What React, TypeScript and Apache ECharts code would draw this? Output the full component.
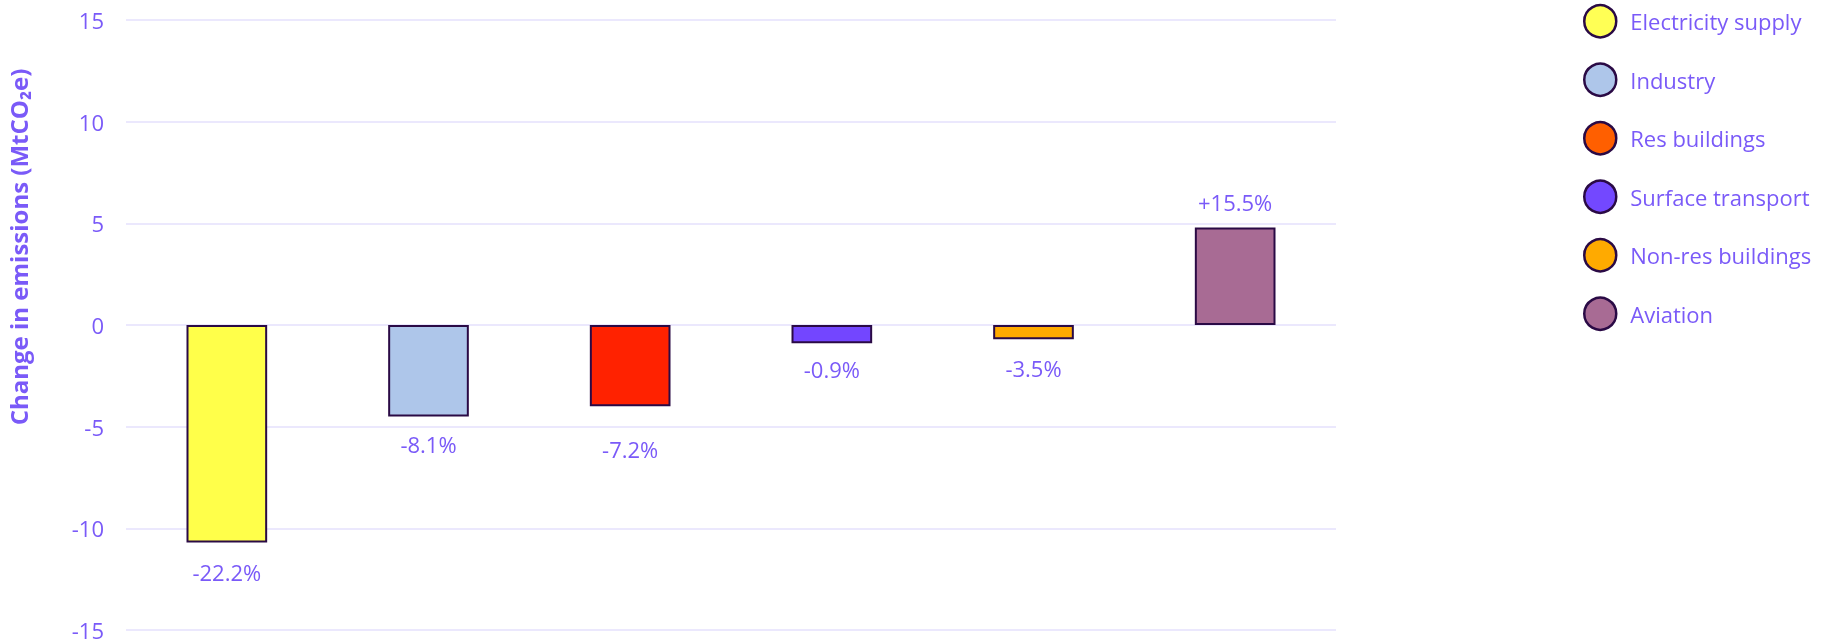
import React, { useEffect, useRef } from "react";
import * as echarts from "echarts";

const categories = ["Electricity supply", "Industry", "Res buildings", "Surface transport", "Non-res buildings", "Aviation"];
const values = [-10.7, -4.5, -4.0, -0.9, -0.7, 4.8];
const pctLabels = ["-22.2%", "-8.1%", "-7.2%", "-0.9%", "-3.5%", "+15.5%"];
const barColors = ["#ffff4a", "#aec6ea", "#ff2200", "#7346ff", "#ffaa00", "#a86b94"];
const legendColors = ["#ffff55", "#aec6ea", "#ff5f00", "#7348ff", "#ffaa00", "#a86b94"];
const labelDistances = [18, 16, 32, 15, 18, 14];
const yTicks = { min: -15, max: 15, interval: 5 };

const TEXT = "#7a5af8";
const FONT = "'Open Sans', 'Noto Sans', sans-serif";
const BORDER = "#2a0a45";

export default function App() {
  const ref = useRef<HTMLDivElement>(null);
  useEffect(() => {
    if (!ref.current) return;
    const chart = echarts.init(ref.current, null, { renderer: "svg" });
    const series = categories.map((name, i) => ({
      name,
      type: "bar",
      stack: "all",
      barWidth: "40%",
      itemStyle: { color: legendColors[i], borderColor: BORDER, borderWidth: 2 },
      data: categories.map((_, j) =>
        j === i
          ? {
              value: values[i],
              itemStyle: { color: barColors[i], borderColor: BORDER, borderWidth: 2 },
              label: {
                show: true,
                position: values[i] < 0 ? "bottom" : "top",
                distance: labelDistances[i],
                formatter: pctLabels[i],
                color: TEXT,
                fontSize: 22,
                fontFamily: FONT,
              },
            }
          : "-"
      ),
    }));
    chart.setOption({
      animation: false,
      textStyle: { fontFamily: FONT },
      grid: { left: 126, right: 486, top: 20, bottom: 14, containLabel: false, outerBoundsMode: "none" },
      legend: {
        orient: "vertical",
        left: 1578,
        top: -1,
        icon: "circle",
        itemWidth: 32,
        itemHeight: 32,
        itemGap: 24,
        itemStyle: { borderColor: BORDER, borderWidth: 2.5 },
        textStyle: { color: TEXT, fontSize: 22, fontFamily: FONT, padding: [0, 0, 0, 9] },
        data: categories,
      },
      xAxis: {
        type: "category",
        data: categories,
        axisLine: { show: false },
        axisTick: { show: false },
        axisLabel: { show: false },
      },
      yAxis: {
        type: "value",
        min: yTicks.min,
        max: yTicks.max,
        interval: yTicks.interval,
        name: "Change in emissions (MtCO\u2082e)",
        nameLocation: "middle",
        nameGap: 96,
        nameRotate: 90,
        nameTextStyle: {
          color: TEXT,
          fontSize: 24,
          fontWeight: "bold",
          fontFamily: FONT,
          padding: [0, 0, 0, 156],
        },
        axisLine: { show: false },
        axisTick: { show: false },
        axisLabel: { color: TEXT, fontSize: 22, margin: 22, fontFamily: FONT },
        splitLine: { lineStyle: { color: "#ebe8fd", width: 2 } },
      },
      series,
    });
    return () => chart.dispose();
  }, []);
  return <div ref={ref} style={{ position: "fixed", left: 0, top: 0, width: 1822, height: 644 }} />;
}
